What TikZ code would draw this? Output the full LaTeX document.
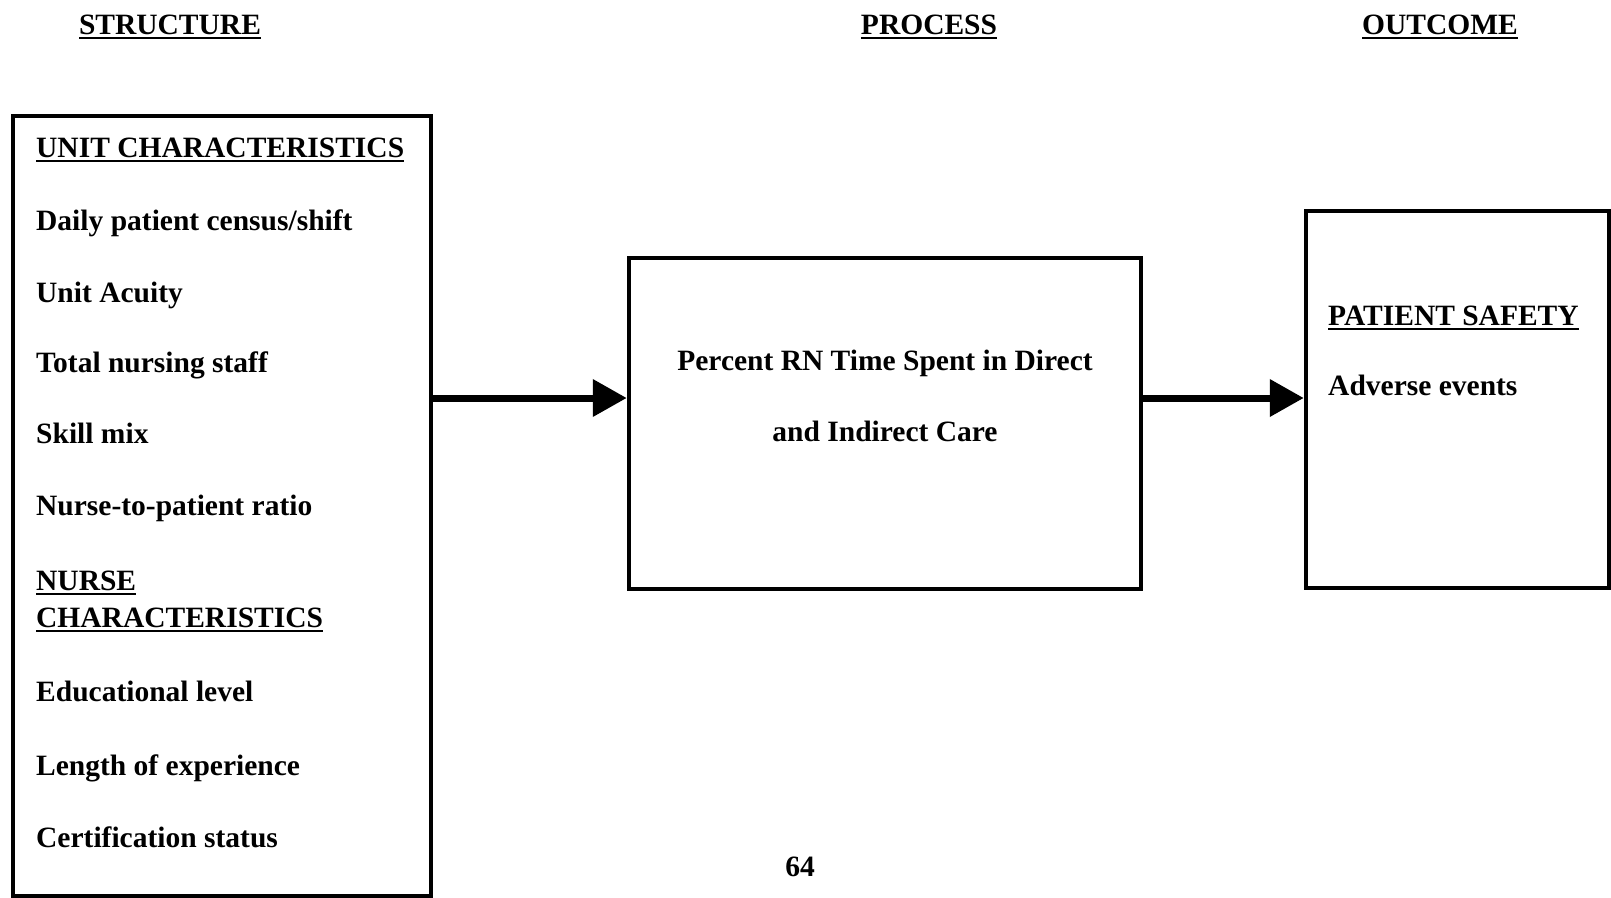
\documentclass[tikz,border=0pt]{standalone}
\usepackage{fontspec}
\setmainfont{Liberation Serif}
\usetikzlibrary{arrows.meta}
\newcommand\myul[1]{\leavevmode\setbox0\hbox{#1}\rlap{\rule[-5pt]{\wd0}{2.2pt}}\box0}
\begin{document}
\begin{tikzpicture}[x=1pt,y=-1pt,
  boxnode/.style={draw,line width=4.5pt,inner sep=0pt,fill=none},
  txt/.style={anchor=base west,inner sep=0pt,font=\fontsize{29.5}{35}\selectfont\bfseries},
  ctxt/.style={anchor=base,inner sep=0pt,font=\fontsize{29.5}{35}\selectfont\bfseries},
  arr/.style={line width=7pt,-{Triangle[length=34pt,width=36pt]}}]
\useasboundingbox (0,0) rectangle (1611,897);
\fill[white] (0,0) rectangle (1611,897);
% headers
\node[ctxt] (hs) at (170,34) {\myul{STRUCTURE}};
\node[ctxt] (hp) at (929,34) {\myul{PROCESS}};
\node[ctxt] (ho) at (1440,34) {\myul{OUTCOME}};
% boxes
\node[boxnode,minimum width=418pt,minimum height=780pt] (struct) at (222,506) {};
\node[boxnode,minimum width=512pt,minimum height=331pt] (proc) at (885,423.5) {};
\node[boxnode,minimum width=303pt,minimum height=377pt] (outc) at (1457.5,399.5) {};
% structure texts
\node[txt] (t1) at (36,157) {\myul{UNIT CHARACTERISTICS}};
\node[txt] (t2) at (36,230) {Daily patient census/shift};
\node[txt] (t3) at (36,302) {Unit Acuity};
\node[txt] (t4) at (36,372) {Total nursing staff};
\node[txt] (t5) at (36,443) {Skill mix};
\node[txt] (t6) at (36,515) {Nurse-to-patient ratio};
\node[txt] (t7) at (36,590) {\myul{NURSE}};
\node[txt] (t8) at (36,627) {\myul{CHARACTERISTICS}};
\node[txt] (t9) at (36,701) {Educational level};
\node[txt] (t10) at (36,775) {Length of experience};
\node[txt] (t11) at (36,847) {Certification status};
% process texts
\node[ctxt] (p1) at (885,370) {Percent RN Time Spent in Direct};
\node[ctxt] (p2) at (885,441) {and Indirect Care};
% outcome texts
\node[txt] (o1) at (1328,325) {\myul{PATIENT SAFETY}};
\node[txt] (o2) at (1328,395) {Adverse events};
% page number
\node[ctxt] (pg) at (800,876) {64};
% arrows
\coordinate (ay) at (0,398);
\draw[arr] (struct.east |- ay) -- (proc.west |- ay);
\draw[arr] (proc.east |- ay) -- (outc.west |- ay);
\end{tikzpicture}
\end{document}
